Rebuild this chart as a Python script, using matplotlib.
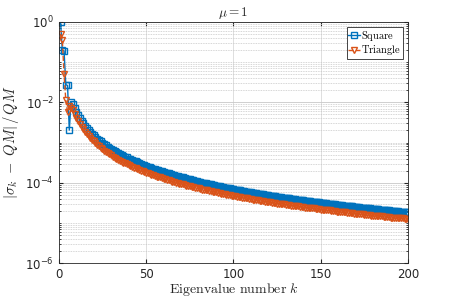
import numpy as np
import matplotlib
matplotlib.use("Agg")
import matplotlib.pyplot as plt
from matplotlib.ticker import LogLocator, NullFormatter

plt.rcParams['mathtext.fontset'] = 'cm'
plt.rcParams['font.family'] = ['DejaVu Sans']

# log10 of relative error, k = 1..200
square_log = [
    0.00, -0.70, -0.72, -1.56, -1.58, -2.69, -2.00, -2.05, -2.15, -2.24,
    -2.32, -2.39, -2.46, -2.52, -2.58, -2.63, -2.68, -2.73, -2.78, -2.82,
    -2.86, -2.90, -2.93, -2.97, -3.00, -3.04, -3.07, -3.10, -3.13, -3.16,
    -3.18, -3.21, -3.24, -3.26, -3.28, -3.31, -3.33, -3.35, -3.37, -3.40,
    -3.42, -3.44, -3.46, -3.47, -3.49, -3.51, -3.53, -3.55, -3.56, -3.58,
    -3.60, -3.61, -3.63, -3.65, -3.66, -3.68, -3.69, -3.70, -3.72, -3.73,
    -3.75, -3.76, -3.77, -3.79, -3.80, -3.81, -3.83, -3.84, -3.85, -3.86,
    -3.87, -3.89, -3.90, -3.91, -3.92, -3.93, -3.94, -3.95, -3.96, -3.97,
    -3.98, -4.00, -4.00, -4.01, -4.02, -4.03, -4.04, -4.05, -4.06, -4.07,
    -4.08, -4.09, -4.10, -4.11, -4.12, -4.13, -4.14, -4.14, -4.15, -4.16,
    -4.17, -4.18, -4.18, -4.19, -4.20, -4.21, -4.22, -4.22, -4.23, -4.24,
    -4.25, -4.25, -4.26, -4.27, -4.28, -4.28, -4.29, -4.30, -4.31, -4.31,
    -4.32, -4.33, -4.33, -4.34, -4.35, -4.35, -4.36, -4.37, -4.37, -4.38,
    -4.38, -4.39, -4.40, -4.40, -4.41, -4.42, -4.42, -4.43, -4.43, -4.44,
    -4.45, -4.45, -4.46, -4.46, -4.47, -4.47, -4.48, -4.49, -4.49, -4.50,
    -4.50, -4.51, -4.51, -4.52, -4.52, -4.53, -4.54, -4.54, -4.55, -4.55,
    -4.56, -4.56, -4.57, -4.57, -4.58, -4.58, -4.59, -4.59, -4.60, -4.60,
    -4.61, -4.61, -4.62, -4.62, -4.63, -4.63, -4.64, -4.64, -4.65, -4.65,
    -4.66, -4.66, -4.66, -4.67, -4.67, -4.68, -4.68, -4.69, -4.69, -4.70,
    -4.70, -4.70, -4.71, -4.71, -4.72, -4.72, -4.72, -4.73, -4.73, -4.74,
]

triangle_log = [
    -0.30, -0.45, -1.30, -1.95, -2.25, -2.10, -2.15, -2.20, -2.30, -2.39,
    -2.47, -2.54, -2.61, -2.67, -2.73, -2.78, -2.83, -2.88, -2.93, -2.97,
    -3.02, -3.06, -3.09, -3.13, -3.16, -3.20, -3.23, -3.26, -3.29, -3.32,
    -3.35, -3.38, -3.41, -3.43, -3.45, -3.48, -3.50, -3.52, -3.54, -3.57,
    -3.59, -3.61, -3.63, -3.64, -3.66, -3.68, -3.70, -3.72, -3.73, -3.75,
    -3.77, -3.78, -3.80, -3.82, -3.83, -3.85, -3.86, -3.87, -3.89, -3.90,
    -3.92, -3.93, -3.94, -3.96, -3.97, -3.98, -4.00, -4.01, -4.02, -4.03,
    -4.04, -4.06, -4.07, -4.08, -4.09, -4.10, -4.11, -4.12, -4.13, -4.14,
    -4.15, -4.17, -4.17, -4.18, -4.19, -4.20, -4.21, -4.22, -4.23, -4.24,
    -4.25, -4.26, -4.27, -4.28, -4.29, -4.30, -4.31, -4.31, -4.32, -4.33,
    -4.34, -4.35, -4.35, -4.36, -4.37, -4.38, -4.39, -4.39, -4.40, -4.41,
    -4.42, -4.42, -4.43, -4.44, -4.45, -4.45, -4.46, -4.47, -4.48, -4.48,
    -4.49, -4.50, -4.50, -4.51, -4.52, -4.52, -4.53, -4.54, -4.54, -4.55,
    -4.55, -4.56, -4.57, -4.57, -4.58, -4.59, -4.59, -4.60, -4.60, -4.61,
    -4.62, -4.62, -4.63, -4.63, -4.64, -4.64, -4.65, -4.66, -4.66, -4.67,
    -4.67, -4.68, -4.68, -4.69, -4.69, -4.70, -4.71, -4.71, -4.72, -4.72,
    -4.73, -4.73, -4.74, -4.74, -4.75, -4.75, -4.76, -4.76, -4.77, -4.77,
    -4.78, -4.78, -4.79, -4.79, -4.80, -4.80, -4.81, -4.81, -4.82, -4.82,
    -4.83, -4.83, -4.83, -4.84, -4.84, -4.85, -4.85, -4.86, -4.86, -4.87,
    -4.87, -4.87, -4.88, -4.88, -4.89, -4.89, -4.89, -4.90, -4.90, -4.91,
]

k = np.arange(1, len(square_log) + 1)
square = 10.0 ** np.array(square_log)
triangle = 10.0 ** np.array(triangle_log)

xticks = [0, 50, 100, 150, 200]
yticks = [1e-6, 1e-4, 1e-2, 1e0]
ytick_labels = [r'$\mathdefault{10^{-6}}$', r'$\mathdefault{10^{-4}}$',
                r'$\mathdefault{10^{-2}}$', r'$\mathdefault{10^{0}}$']

blue = '#0072BD'
orange = '#D95319'
axc = '#262626'

fig = plt.figure(figsize=(4.49, 3.01), dpi=100)
ax = fig.add_axes([0.131, 0.126, 0.778, 0.801])

ax.semilogy(k, square, '-s', color=blue, mfc='none', ms=4.6, mew=1.0, lw=1.0,
            label=r'$\mathrm{Square}$')
ax.semilogy(k, triangle, '--v', color=orange, mfc='none', ms=5.0, mew=1.0, lw=1.0,
            label=r'$\mathrm{Triangle}$')

ax.set_xlim(0, 200)
ax.set_ylim(1e-6, 1e0)
ax.set_xticks(xticks)
ax.set_yticks(yticks)
ax.set_yticklabels(ytick_labels)
ax.yaxis.set_minor_locator(LogLocator(base=10, subs=np.arange(1, 10), numticks=20))
ax.yaxis.set_minor_formatter(NullFormatter())

ax.grid(True, which='major', axis='x', color='#d9d9d9', lw=0.6)
ax.grid(True, which='major', axis='y', color='#c8c8c8', lw=0.6)
ax.grid(True, which='minor', axis='y', color='#c8c8c8', lw=0.6, ls=(0, (1, 1)))
ax.set_axisbelow(True)

ax.tick_params(which='both', direction='in', colors=axc, labelsize=8.5,
               top=True, right=True, length=3)
ax.tick_params(which='minor', length=1.5)
for s in ax.spines.values():
    s.set_color(axc)
    s.set_linewidth(0.6)

ax.set_xlabel(r'$\mathrm{Eigenvalue\ number}\ k$', fontsize=10, color=axc, labelpad=0)
ax.set_ylabel(r'$|\sigma_k\ -\ QM|\,/\,QM$', fontsize=10.5, color=axc, labelpad=3)
ax.set_title(r'$\mu = 1$', fontsize=9.5, color=axc, pad=4)

leg = ax.legend(loc='upper right', fontsize=7.5, frameon=True, fancybox=False,
                edgecolor=axc, handlelength=1.1, handletextpad=0.15,
                borderpad=0.15, labelspacing=0.05, borderaxespad=0.5,
                framealpha=1.0)
leg.get_frame().set_linewidth(0.6)

fig.savefig('out.png', dpi=100)
